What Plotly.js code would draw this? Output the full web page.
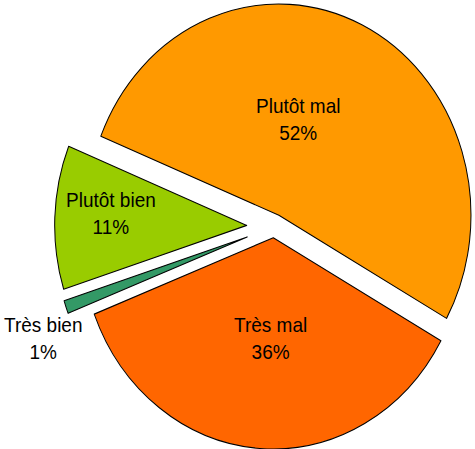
<!DOCTYPE html>
<html>
<head>
<meta charset="utf-8">
<script src="https://cdn.plot.ly/plotly-3.0.1.min.js"></script>
<style>
html,body{margin:0;padding:0;overflow:hidden;background:#fff;width:475px;height:449px;}
#chart{position:absolute;left:0;top:-16.5px;width:548px;height:441px;transform-origin:0 0;transform:scaleY(1.1);}
</style>
</head>
<body>
<div id="chart"></div>
<script>
var labels = ["Plutôt mal", "Très mal", "Très bien", "Plutôt bien"];
var values = [52, 36, 1, 11];
var colors = ["#FF9900", "#FF6600", "#339966", "#99CC00"];
var pulls = [0.059, 0.053, 0.148, 0.142];
// label anchor positions (paper coordinates)
var labelX = [0.544, 0.493, 0.080, 0.203];
var labelY = [0.722, 0.270, 0.269, 0.526];

var total = values.reduce(function (a, b) { return a + b; }, 0);

var trace = {
  type: "pie",
  labels: labels,
  values: values,
  sort: false,
  direction: "clockwise",
  rotation: -68,
  pull: pulls,
  marker: {colors: colors, line: {color: "#000000", width: 1}},
  textinfo: "none",
  hoverinfo: "none",
  domain: {x: [0, 1], y: [0, 1]}
};

var annotations = labels.map(function (lab, i) {
  return {
    xref: "paper", yref: "paper",
    x: labelX[i], y: labelY[i],
    xanchor: "center", yanchor: "middle",
    showarrow: false,
    align: "center",
    text: lab + "<br>" + Math.round(values[i] / total * 100) + "%",
    font: {family: "Liberation Sans, Arial, sans-serif", size: 19, color: "#000000"}
  };
});

var layout = {
  width: 548,
  height: 441,
  margin: {l: 0, r: 0, t: 0, b: 0},
  showlegend: false,
  paper_bgcolor: "#ffffff",
  plot_bgcolor: "#ffffff",
  annotations: annotations
};

Plotly.newPlot("chart", [trace], layout, {displayModeBar: false, staticPlot: true});
</script>
</body>
</html>
